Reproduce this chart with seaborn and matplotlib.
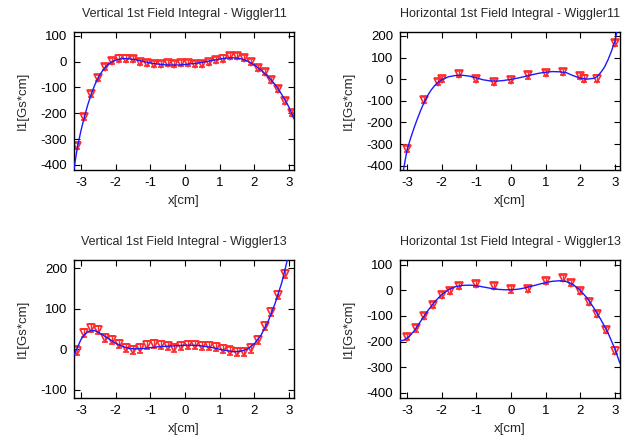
"""
1st field integral of the wigglers: measured points with errorbars + polynomial fit.
"""

import numpy as np
import matplotlib
matplotlib.use("Agg")
import matplotlib.pyplot as plt
import seaborn as sns

# ── Vertical, Wiggler11 ─────────────────────────────────
v11_x = [-3.1, -2.9, -2.7, -2.5, -2.3, -2.1, -1.9, -1.7, -1.5, -1.3, -1.1, -0.9,
         -0.7, -0.5, -0.3, -0.1, 0.1, 0.3, 0.5, 0.7, 0.9, 1.1, 1.3, 1.5, 1.7, 1.9,
         2.1, 2.3, 2.5, 2.7, 2.9, 3.1]
v11_y = [-326, -214, -124, -62, -21, 3, 12, 12, 9, 0, -6, -8,
         -10, -5, -8, -6, -5, -9, -8, 0, 5, 12, 23, 23, 14, -1,
         -26, -40, -71, -105, -153, -199]
v11_fit_x = [-3.2, -3.1, -3.0, -2.9, -2.8, -2.7, -2.6, -2.5, -2.4, -2.3, -2.2, -2.1,
             -2.0, -1.8, -1.6, -1.4, -1.2, -1.0, -0.8, -0.6, -0.4, -0.2, 0.0, 0.2,
             0.4, 0.6, 0.8, 1.0, 1.2, 1.4, 1.6, 1.8, 2.0, 2.2, 2.4, 2.6, 2.8, 3.0, 3.15]
v11_fit_y = [-415, -330, -268, -214, -166, -125, -90, -62, -40, -22, -9, 0,
             6, 12, 11, 7, 1, -5, -9, -12, -13, -13, -11, -8,
             -5, 0, 5, 10, 14, 15, 12, 3, -12, -33, -58, -88, -128, -175, -222]

# ── Horizontal, Wiggler11 ───────────────────────────────
h11_x = [-3.0, -2.5, -2.1, -2.0, -1.5, -1.0, -0.5, 0.0, 0.5, 1.0, 1.5, 2.0, 2.1, 2.5, 3.0]
h11_y = [-325, -97, -12, 0, 23, 0, -12, -2, 17, 28, 31, 14, 3, 3, 165]
h11_fit_x = [-3.2, -3.1, -3.0, -2.9, -2.8, -2.7, -2.6, -2.5, -2.4, -2.3, -2.2, -2.1,
             -2.0, -1.8, -1.6, -1.4, -1.2, -1.0, -0.8, -0.6, -0.4, -0.2, 0.0,
             0.2, 0.4, 0.6, 0.8, 1.0, 1.2, 1.4, 1.6, 1.8, 2.0, 2.2, 2.4, 2.5, 2.6,
             2.7, 2.8, 2.9, 3.0, 3.1]
h11_fit_y = [-540, -420, -330, -276, -228, -184, -143, -106, -75, -50, -30, -14,
             -3, 11, 17, 18, 14, 6, -3, -8, -9, -6, -1,
             5, 12, 20, 27, 32, 35, 34, 30, 16, 5, 0, 4, 13, 32,
             55, 88, 128, 174, 250]

# ── Vertical, Wiggler13 ─────────────────────────────────
v13_x = [-3.1, -2.9, -2.7, -2.5, -2.3, -2.1, -1.9, -1.7, -1.5, -1.3, -1.1, -0.9,
         -0.7, -0.5, -0.3, -0.1, 0.1, 0.3, 0.5, 0.7, 0.9, 1.1, 1.3, 1.5, 1.7, 1.9,
         2.1, 2.3, 2.5, 2.7, 2.9]
v13_y = [-3, 41, 53, 47, 27, 22, 12, 4, -1, 2, 11, 13,
         10, 9, 4, 8, 11, 11, 8, 9, 5, 0, -3, -7, -7, 2,
         23, 58, 91, 134, 186]
v13_fit_x = [-3.2, -3.1, -3.0, -2.9, -2.8, -2.7, -2.6, -2.5, -2.4, -2.2, -2.0, -1.8,
             -1.6, -1.4, -1.2, -1.0, -0.8, -0.6, -0.4, -0.2, 0.0, 0.2, 0.4, 0.6,
             0.8, 1.0, 1.2, 1.4, 1.6, 1.8, 2.0, 2.2, 2.4, 2.6, 2.8, 3.0]
v13_fit_y = [-15, 5, 24, 36, 43, 46, 46, 42, 37, 26, 15, 7,
             2, 1, 2, 4, 6, 7, 8, 9, 10, 10, 9, 7,
             4, 0, -3, -6, -5, 0, 13, 35, 68, 112, 165, 235]

# ── Horizontal, Wiggler13 ───────────────────────────────
h13_x = [-3.0, -2.75, -2.5, -2.25, -2.0, -1.75, -1.5, -1.0, -0.5, 0.0, 0.5,
         1.0, 1.5, 1.75, 2.0, 2.25, 2.5, 2.75, 3.0]
h13_y = [-183, -149, -100, -58, -19, -4, 15, 23, 15, 3, 4,
         36, 47, 27, -4, -47, -94, -155, -235]
h13_fit_x = [-3.2, -3.1, -3.0, -2.9, -2.8, -2.6, -2.4, -2.2, -2.0, -1.8, -1.6, -1.4,
             -1.2, -1.0, -0.8, -0.6, -0.4, -0.2, 0.0, 0.2, 0.4, 0.6, 0.8, 1.0,
             1.2, 1.4, 1.6, 1.8, 2.0, 2.2, 2.4, 2.6, 2.8, 3.0, 3.15]
h13_fit_y = [-197, -195, -187, -175, -160, -120, -80, -45, -17, 2, 14, 19,
             20, 18, 13, 8, 4, 2, 2, 4, 9, 16, 23, 30,
             35, 37, 34, 22, 0, -30, -70, -115, -165, -228, -285]

PANELS = [
    ("Vertical 1st Field Integral - Wiggler11", v11_x, v11_y, 12, v11_fit_x, v11_fit_y,
     (-420, 115), [-400, -300, -200, -100, 0, 100]),
    ("Horizontal 1st Field Integral - Wiggler11", h11_x, h11_y, 14, h11_fit_x, h11_fit_y,
     (-420, 218), [-400, -300, -200, -100, 0, 100, 200]),
    ("Vertical 1st Field Integral - Wiggler13", v13_x, v13_y, 10, v13_fit_x, v13_fit_y,
     (-120, 220), [-100, 0, 100, 200]),
    ("Horizontal 1st Field Integral - Wiggler13", h13_x, h13_y, 12, h13_fit_x, h13_fit_y,
     (-420, 118), [-400, -300, -200, -100, 0, 100]),
]
X_TICKS = [-3, -2, -1, 0, 1, 2, 3]

sns.set_style("ticks")
plt.rcParams["font.family"] = ["Liberation Sans", "DejaVu Sans"]
plt.rcParams["font.size"] = 9
plt.rcParams["axes.unicode_minus"] = False   # gnuplot-style hyphen minus

W, H = 632, 441
fig = plt.figure(figsize=(W / 100, H / 100), dpi=100)
boxes = [(74, 32), (400, 32), (74, 260), (400, 260)]   # left, top in px

for (title, px, py, err, fx, fy, ylim, yticks), (l, t) in zip(PANELS, boxes):
    ax = fig.add_axes([l / W, 1 - (t + 138) / H, 220 / W, 138 / H])

    sns.lineplot(x=fx, y=fy, color="#1a1aff", linewidth=1.0, sort=False,
                 estimator=None, ax=ax, zorder=3)
    ax.errorbar(px, py, yerr=err, fmt="v", ms=5.5, mfc="none", mec="#ff2a2a",
                mew=1.2, ecolor="#ff2a2a", elinewidth=1.0, capsize=2.5,
                capthick=1.0, zorder=2)

    ax.set_xlim(-3.2, 3.15)
    ax.set_ylim(*ylim)
    ax.set_xticks(X_TICKS)
    ax.set_yticks(yticks)
    ax.tick_params(direction="in", length=4, width=0.8, top=True, right=True,
                   labelsize=9.5, pad=5, colors="black")
    for s in ax.spines.values():
        s.set_linewidth(1.0)
        s.set_color("black")

    ax.set_title(title, fontsize=9, pad=11)
    ax.set_xlabel("x[cm]", fontsize=9.5)
    ax.set_ylabel("I1[Gs*cm]", fontsize=9.5)
    ax.xaxis.set_label_coords(0.5, -0.18)
    ax.yaxis.set_label_coords(-0.205, 0.5)

fig.savefig("out.png", dpi=100, facecolor="white")
